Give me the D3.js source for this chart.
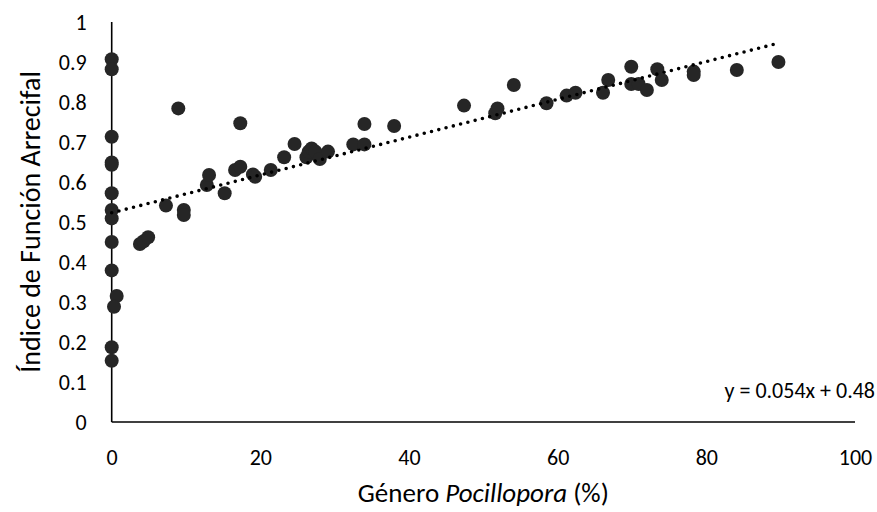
<!DOCTYPE html>
<html>
<head>
<meta charset="utf-8">
<script src="https://cdn.jsdelivr.net/npm/d3@7"></script>
<style>
  body { margin: 0; background: #fff; }
  svg text { font-family: Carlito, Calibri, Lato, sans-serif; fill: #000; }
</style>
</head>
<body>
<div id="chart"></div>
<script>
"use strict";

// Pocillopora cover (%) vs reef function index
let pocilloporaCover = [
  0, 0, 0, 0, 0, 0, 0, 0, 0, 0, 0, 0,
  0.67, 0.31, 3.8, 4.3, 4.9, 7.3, 8.96, 9.7, 9.7,
  12.8, 13.1, 15.2, 16.6, 17.3, 17.3, 19.0, 19.3, 21.4,
  23.2, 24.6, 26.2, 26.5, 26.9, 27.4, 28.0, 29.1,
  32.5, 34.0, 34.0, 38.0, 47.4, 51.6, 51.9, 54.1,
  58.5, 61.2, 62.4, 66.1, 66.8, 69.9, 69.9, 70.9,
  72.0, 73.4, 74.0, 78.3, 78.3, 84.1, 89.7
];
let reefIndex = [
  0.907, 0.882, 0.713, 0.649, 0.643, 0.572, 0.53, 0.509, 0.45, 0.379, 0.187, 0.153,
  0.315, 0.288, 0.445, 0.452, 0.462, 0.541, 0.784, 0.53, 0.5175,
  0.5925, 0.6175, 0.572, 0.63, 0.638, 0.747, 0.619, 0.613, 0.63,
  0.662, 0.695, 0.662, 0.676, 0.684, 0.676, 0.6575, 0.676,
  0.694, 0.694, 0.745, 0.74, 0.791, 0.772, 0.784, 0.8425,
  0.797, 0.816, 0.823, 0.823, 0.855, 0.888, 0.845, 0.845,
  0.83, 0.882, 0.855, 0.876, 0.8675, 0.88, 0.90
];

let xTicks = [0, 20, 40, 60, 80, 100];
let yTicks = [0, 0.1, 0.2, 0.3, 0.4, 0.5, 0.6, 0.7, 0.8, 0.9, 1];

// dotted trend line as drawn (start/end of the fitted line)
let trendX = [0, 89.7];
let trendY = [0.523, 0.947];
let trendLabel = "y = 0.054x + 0.48";

let width = 877, height = 512;
let margins = { top: 22, left: 111.7, right: 22, bottom: 90 };

let svg = d3.select("#chart").append("svg")
  .attr("width", width)
  .attr("height", height);

let x = d3.scaleLinear()
  .domain([0, 100])
  .range([margins.left, width - margins.right]);

let y = d3.scaleLinear()
  .domain([0, 1])
  .range([height - margins.bottom, margins.top]);

// axes: plain lines, no tick marks, Excel style
let xAxis = d3.axisBottom(x).tickValues(xTicks).tickSize(0).tickPadding(27);
let yAxis = d3.axisLeft(y).tickValues(yTicks).tickSize(0).tickPadding(25)
  .tickFormat(d => d === 0 ? "0" : d === 1 ? "1" : d3.format(".1f")(d));

let xG = svg.append("g")
  .attr("transform", "translate(0," + y(0) + ")")
  .call(xAxis);
let yG = svg.append("g")
  .attr("transform", "translate(" + x(0) + ",0)")
  .call(yAxis);

[xG, yG].forEach(g => {
  g.select(".domain").attr("stroke", "#000").attr("stroke-width", 1.6);
  g.selectAll("text").style("font-size", "22px");
});
xG.select(".domain").attr("d", "M" + x(0) + ",0H" + x(100));
yG.select(".domain").attr("d", "M0," + y(0) + "V" + y(1));

// points
let pts = d3.zip(pocilloporaCover, reefIndex);
svg.append("g").selectAll("circle")
  .data(pts)
  .enter().append("circle")
  .attr("cx", d => x(d[0]))
  .attr("cy", d => y(d[1]))
  .attr("r", 7)
  .style("fill", "#262626");

// trend line
svg.append("line")
  .attr("x1", x(trendX[0]))
  .attr("y1", y(trendY[0]))
  .attr("x2", x(trendX[1]))
  .attr("y2", y(trendY[1]))
  .style("stroke", "#000")
  .style("stroke-width", 3.6)
  .style("stroke-linecap", "round")
  .style("stroke-dasharray", "0 7.5");

svg.append("text")
  .attr("x", 875)
  .attr("y", 398)
  .attr("text-anchor", "end")
  .style("font-size", "22px")
  .text(trendLabel);

// axis titles
let xTitle = svg.append("text")
  .attr("x", (x(0) + x(100)) / 2)
  .attr("y", 502)
  .attr("text-anchor", "middle")
  .style("font-size", "27px");
xTitle.append("tspan").text("Género ");
xTitle.append("tspan").style("font-style", "italic").text("Pocillopora");
xTitle.append("tspan").text(" (%)");

svg.append("text")
  .attr("transform", "translate(40," + (y(0) + y(1)) / 2 + ") rotate(-90)")
  .attr("text-anchor", "middle")
  .style("font-size", "28px")
  .text("Índice de Función Arrecifal");
</script>
</body>
</html>
